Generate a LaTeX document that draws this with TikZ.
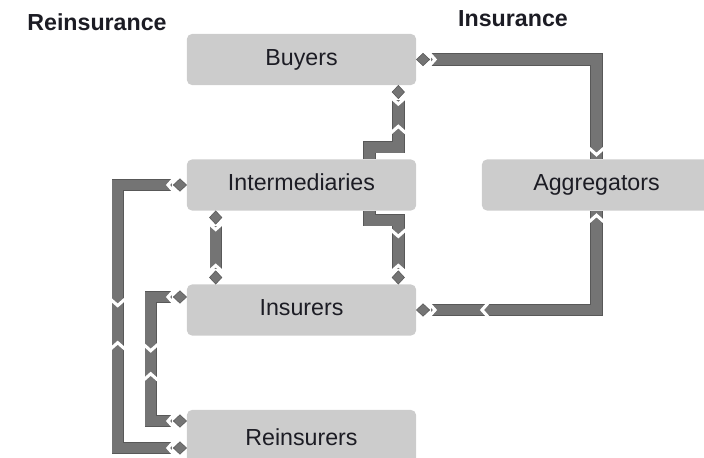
\documentclass[tikz,border=0pt]{standalone}
\usepackage{fontspec}
\setmainfont{Liberation Sans}
\usetikzlibrary{calc, decorations.markings}

\definecolor{boxgray}{RGB}{204,204,204}
\definecolor{bargray}{RGB}{116,116,116}
\definecolor{edgegray}{RGB}{88,88,88}
\definecolor{inkgray}{RGB}{28,28,36}

% white notch laid across a flow bar, pointing along the path
\newcommand{\chevron}{\draw[white, line width=2.2pt, shorten <=0pt, shorten >=0pt] (-4.5pt,6pt) -- (0.8pt,0pt) -- (-4.5pt,-6pt);}
% diamond where a flow bar meets a box
\newcommand{\knob}[1]{\fill[bargray, draw=edgegray, line width=0.4pt, shorten <=0pt, shorten >=0pt, xscale=#1] (0pt,0pt) -- (4.7pt,4.4pt) -- (9.4pt,0pt) -- (4.7pt,-4.4pt) -- cycle;}

\begin{document}
\begin{tikzpicture}[x=0.025cm, y=-0.025cm,
    player/.style={rectangle, rounded corners=3.5pt, fill=boxgray, minimum width=5.725cm, minimum height=1.275cm,
        text=inkgray, text height=12pt, text depth=3.5pt, font=\fontsize{16.5}{20}\selectfont},
    heading/.style={font=\fontsize{16.5}{20}\selectfont\bfseries, text=inkgray, inner sep=0pt},
    flow/.style={draw=bargray, line width=7.6pt, preaction={draw=edgegray, line width=8.8pt}},
    fwd/.style={postaction={decorate, decoration={markings, mark=at position #1 with {\chevron}}}},
    bwd/.style={postaction={decorate, decoration={markings, mark=at position #1 with {\begin{scope}[rotate=180]\chevron\end{scope}}}}},
    knob start/.style={shorten <=10.5pt, fwd=12.5pt, postaction={decorate, decoration={markings, mark=at position 0.1pt with {\knob{1}}}}},
    knob end/.style={shorten >=10.5pt, bwd=-12.5pt, postaction={decorate, decoration={markings, mark=at position -0.1pt with {\knob{-1}}}}}
]
    \useasboundingbox (0,0) rectangle (704,458);

    \node[heading] (reins title) at (97,22) {Reinsurance};
    \node[heading] (ins title) at (513,19) {Insurance};

    \node[player] (buyers) at (301.5,59.5) {Buyers};
    \node[player] (inter) at (301.5,185) {Intermediaries};
    \node[player] (insurers) at (301.5,310) {Insurers};
    \node[player, minimum height=1.5cm] (reins) at (301.5,440) {Reinsurers};
    \node[player] (aggr) at (596.5,185) {Aggregators};

    % insurance side
    \draw[flow, knob start, fwd=-4pt] (buyers.east) -| (aggr.north);
    \draw[flow, knob start, bwd=47.5pt, fwd=-4pt] (insurers.east) -| (aggr.south);

    % buyers - intermediaries - insurers
    \draw[flow, knob start, bwd=30pt] ($(buyers.south east)+(-18,0)$) -- ++(0,62) -| ($(inter.north east)+(-47,0)$);
    \draw[flow, knob end, fwd=38pt] ($(inter.south east)+(-47,0)$) -- ++(0,9.5) -| ($(insurers.north east)+(-18,0)$);
    \draw[flow, knob start, knob end] ($(inter.south west)+(29,0)$) -- ($(insurers.north west)+(29,0)$);

    % reinsurance loops
    \draw[flow, knob start, knob end, fwd=134pt, bwd=162pt] (inter.west) -- ++(-69,0) |- ($(reins.west)+(0,8)$);
    \draw[flow, knob start, knob end, fwd=63pt, bwd=81pt] ($(insurers.west)+(0,-13)$) -- ++(-36,0) |- ($(reins.west)+(0,-19)$);
\end{tikzpicture}
\end{document}
